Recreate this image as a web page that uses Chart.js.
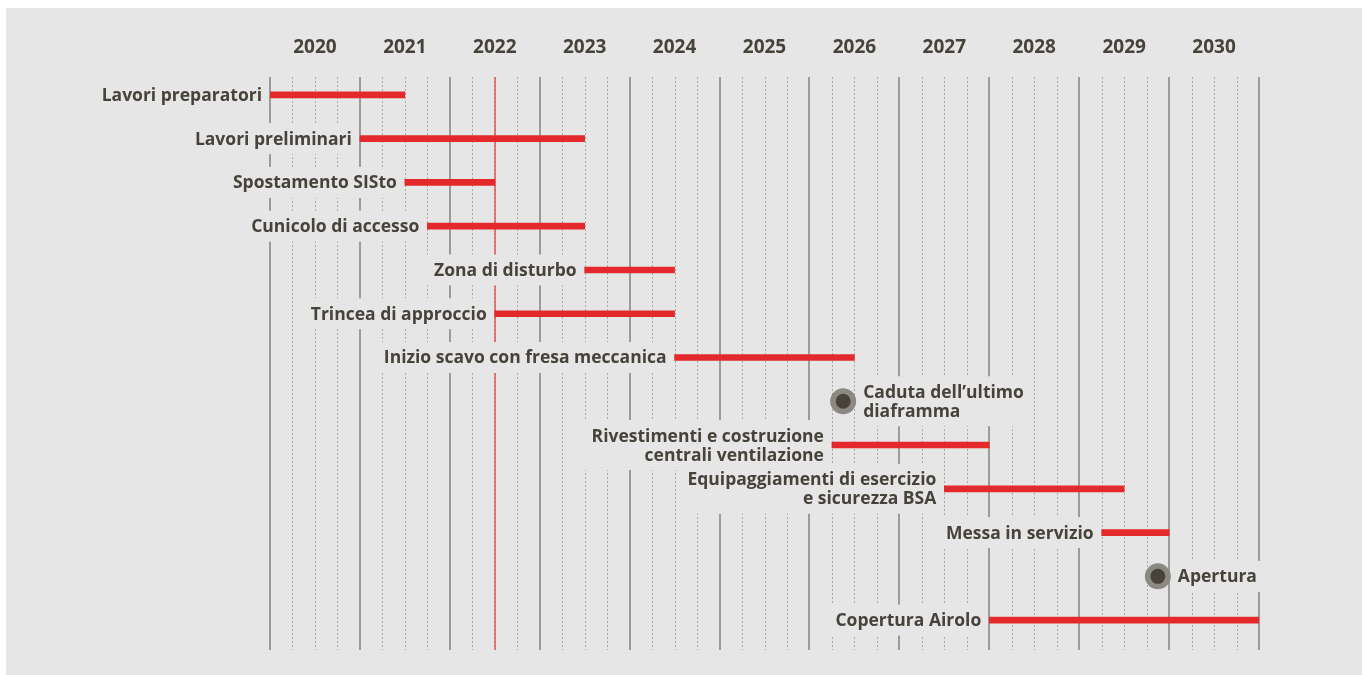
<!DOCTYPE html>
<html>
<head>
<meta charset="utf-8">
<script src="https://cdn.jsdelivr.net/npm/chart.js@4"></script>
<style>
  html, body { margin: 0; padding: 0; background: #fff; }
  #wrap { position: absolute; left: 6px; top: 8px; width: 1356px; height: 667px; background: #e6e6e6; }
  #cv { position: absolute; left: 0; top: 0; }
</style>
</head>
<body>
<div id="wrap"></div>
<canvas id="cv" width="1362" height="675"></canvas>
<script>
// anni (etichette in alto)
const years = [2020, 2021, 2022, 2023, 2024, 2025, 2026, 2027, 2028, 2029, 2030];

// fasi del cantiere
const rows = [
  'Lavori preparatori',
  'Lavori preliminari',
  'Spostamento SISto',
  'Cunicolo di accesso',
  'Zona di disturbo',
  'Trincea di approccio',
  'Inizio scavo con fresa meccanica',
  ['Caduta dell\u2019ultimo', 'diaframma'],
  ['Rivestimenti e costruzione', 'centrali ventilazione'],
  ['Equipaggiamenti di esercizio', 'e sicurezza BSA'],
  'Messa in servizio',
  'Apertura',
  'Copertura Airolo'
];
const starts = [2020, 2021, 2021.5, 2021.75, 2023.5, 2022.5, 2024.5, null, 2026.25, 2027.5, 2029.25, null, 2028];
const ends = [2021.5, 2023.5, 2022.5, 2023.5, 2024.5, 2024.5, 2026.5, null, 2028, 2029.5, 2030, null, 2031];
const milestones = [null, null, null, null, null, null, null, 2026.375, null, null, null, 2029.875, null];
const today = 2022.5;

const TXT = '#47423a';
const BG = '#e6e6e6';
const RED = '#e3292b';
const FONT = 'bold 17.5px "Open Sans", sans-serif';

// griglia + etichette delle fasi
const timeline = {
  id: 'timeline',
  beforeDatasetsDraw(chart) {
    const ctx = chart.ctx;
    const xs = chart.scales.x, ys = chart.scales.y;
    const top = chart.chartArea.top + 4, bottom = chart.chartArea.bottom + 8;
    ctx.save();
    // linee trimestrali
    for (let y = years[0]; y < years[years.length - 1] + 1; y += 0.25) {
      if (y % 1 === 0) continue;
      const px = Math.round(xs.getPixelForValue(y)) + 0.5;
      ctx.strokeStyle = '#a9a9a6';
      ctx.lineWidth = 1;
      ctx.setLineDash([2, 2]);
      ctx.beginPath(); ctx.moveTo(px, top); ctx.lineTo(px, bottom); ctx.stroke();
    }
    ctx.setLineDash([]);
    for (let y = years[0]; y <= years[years.length - 1] + 1; y++) {
      const px = Math.round(xs.getPixelForValue(y));
      ctx.strokeStyle = '#9c9b96';
      ctx.lineWidth = 2;
      ctx.beginPath(); ctx.moveTo(px, top); ctx.lineTo(px, bottom); ctx.stroke();
    }
    const tx = Math.round(xs.getPixelForValue(today));
    ctx.strokeStyle = '#e05555';
    ctx.lineWidth = 1.5;
    ctx.beginPath(); ctx.moveTo(tx, top); ctx.lineTo(tx, bottom); ctx.stroke();

    // etichette
    ctx.font = FONT;
    ctx.textBaseline = 'middle';
    const lh = 19;
    rows.forEach((r, i) => {
      const lines = Array.isArray(r) ? r : [r];
      const cy = ys.getPixelForValue(i);
      let align, x;
      if (starts[i] != null) {
        x = xs.getPixelForValue(starts[i]) - 8;
        align = 'right';
      } else {
        x = xs.getPixelForValue(milestones[i]) + 20;
        align = 'left';
      }
      const w = Math.max(...lines.map(l => ctx.measureText(l).width));
      const h = lines.length * lh;
      const bx = align === 'right' ? x - w - 8 : x - 6;
      ctx.fillStyle = BG;
      ctx.fillRect(bx, cy - h / 2 - 6, w + 14, h + 12);
      ctx.fillStyle = TXT;
      ctx.textAlign = align;
      lines.forEach((l, k) => {
        ctx.fillText(l, x, cy + (k - (lines.length - 1) / 2) * lh + 1);
      });
    });
    ctx.restore();
  }
};

new Chart(document.getElementById('cv'), {
  type: 'bar',
  data: {
    labels: rows,
    datasets: [{
      type: 'bar',
      data: starts.map((s, i) => s == null ? null : [s, ends[i]]),
      backgroundColor: RED,
      barThickness: 6,
      borderSkipped: false
    }, {
      type: 'scatter',
      data: milestones.map((m, i) => ({ x: m, y: i })),
      pointRadius: 10.25,
      pointBorderWidth: 5.5,
      pointBackgroundColor: '#48433a',
      pointBorderColor: '#8b8982'
    }]
  },
  options: {
    responsive: false,
    animation: false,
    indexAxis: 'y',
    layout: { padding: { left: 270, right: 103, top: 0, bottom: 33 } },
    plugins: { legend: { display: false }, tooltip: { enabled: false } },
    scales: {
      x: {
        type: 'linear',
        position: 'top',
        min: years[0],
        max: years[years.length - 1] + 1,
        afterFit(s) { s.height = 73; },
        afterBuildTicks(s) { s.ticks = years.map(y => ({ value: y + 0.5 })); },
        ticks: {
          padding: 14,
          autoSkip: false,
          maxRotation: 0,
          color: TXT,
          font: { family: '"Open Sans", sans-serif', size: 19, weight: 'bold' },
          callback: v => String(Math.floor(v))
        },
        grid: { display: false, drawTicks: false },
        border: { display: false }
      },
      y: {
        type: 'category',
        offset: true,
        display: false
      }
    }
  },
  plugins: [timeline]
});
</script>
</body>
</html>
